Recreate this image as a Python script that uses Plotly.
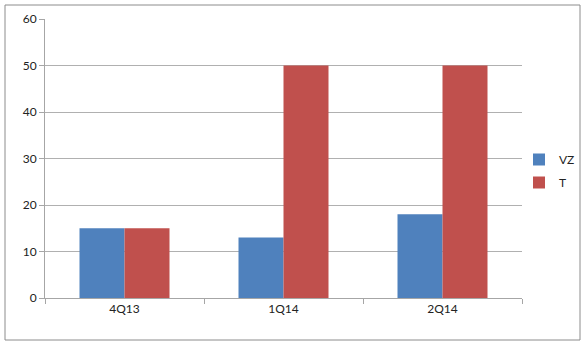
import plotly.graph_objects as go

# Quarterly values per company
quarters = ["4Q13", "1Q14", "2Q14"]
vz_values = [15, 13, 18]
t_values = [15, 50, 50]
y_ticks = [0, 10, 20, 30, 40, 50, 60]

fig = go.Figure()
fig.add_trace(go.Bar(name="VZ", x=quarters, y=vz_values,
                     marker=dict(color="#4F81BD", line=dict(width=0)),
                     legendgroup="vz"))
fig.add_trace(go.Bar(name="T", x=quarters, y=t_values,
                     marker=dict(color="#C0504D", line=dict(width=0)),
                     legendgroup="t"))

W, H = 588, 346
ml, mr, mt, mb = 45, 66, 19, 48
pw, ph = W - ml - mr, H - mt - mb

def px_x(p):
    return (p - ml) / pw

def px_y(p):
    return (H - mb - p) / ph

fig.update_layout(
    width=W, height=H,
    margin=dict(l=ml, r=mr, t=mt, b=mb, autoexpand=False),
    paper_bgcolor="white", plot_bgcolor="white",
    barmode="group", bargap=0.434, bargroupgap=0,
    font=dict(family="Lato, Open Sans, sans-serif", size=12, color="#222222"),
    legend=dict(xref="container", yref="container",
                x=519 / W, y=1 - 171 / H, xanchor="left", yanchor="middle",
                font=dict(size=12), tracegroupgap=4,
                bgcolor="rgba(0,0,0,0)"),
    xaxis=dict(type="category", range=[-0.5, 2.5], showline=True,
               linecolor="#A6A6A6", linewidth=1, ticks="outside",
               tickson="boundaries", ticklen=5, tickcolor="#A6A6A6",
               showgrid=False, fixedrange=True),
    yaxis=dict(range=[0, 60], tickvals=y_ticks, showline=True,
               linecolor="#A6A6A6", linewidth=1, ticks="outside",
               ticklen=5, tickcolor="#A6A6A6", showgrid=True,
               gridcolor="#B0B0B0", gridwidth=1, zeroline=False,
               fixedrange=True),
    shapes=[dict(type="rect", xref="paper", yref="paper",
                 x0=px_x(5), x1=px_x(580), y0=px_y(340), y1=px_y(5),
                 line=dict(color="#8C8C8C", width=1), layer="below")],
)

fig.write_html("out.html")
